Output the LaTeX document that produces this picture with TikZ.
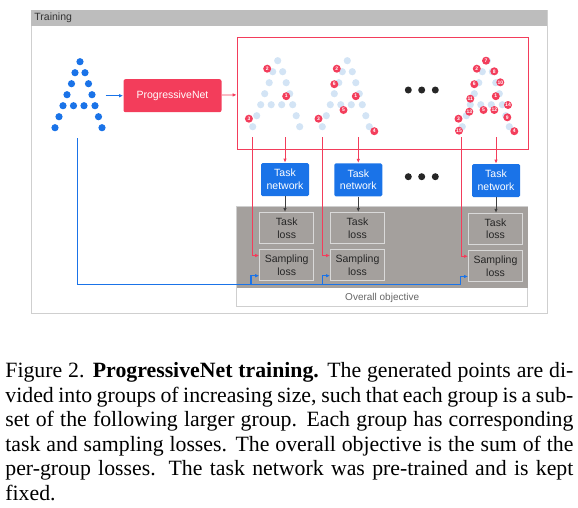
\documentclass[tikz,border=0pt]{standalone}
\usepackage{fontspec}
\setmainfont{Liberation Serif}
\setsansfont{Liberation Sans}
\usetikzlibrary{arrows.meta}

\definecolor{pnred}{HTML}{F33D5B}
\definecolor{gblue}{HTML}{1A73E8}
\definecolor{paleblue}{HTML}{D3E4F5}
\definecolor{lossgray}{HTML}{A4A09D}
\definecolor{framegray}{HTML}{CFCFCF}
\definecolor{bargray}{HTML}{BDBDBD}
\definecolor{inkgray}{HTML}{333333}

% dot layout of the letter A, offsets from its top point
\newcommand\Ashape{0/0,-5/11,5/11,-8.5/22,8.5/22,-13/33,12/33,-17/44,-6.5/44,4/44,15/44,-21/55,18.5/55,-25/66,22/66}
% where the numbered samples sit, offsets from the top point
\newcommand\Nums{8.5/35.5/1,-10.5/8/2,-28.8/58/3,27/70.5/4,-3.8/49.3/5,-13/23.5/6,-1.3/0/7,7/10.6/8,20/56.6/9,13/21.6/10,-17/38/11,7/49.3/12,-18/51/13,20.7/44.3/14,-28.3/70/15}

\tikzset{
  tip/.style={-{Latex[length=4pt,width=3.5pt]}},
  pnbox/.style={fill=pnred,rounded corners=2pt,text=white,minimum width=98pt,minimum height=33pt,inner sep=0},
  netbox/.style={fill=gblue,rounded corners=1.5pt,text=white,align=center,minimum width=48pt,minimum height=33pt,inner sep=0},
  lossbox/.style={draw=framegray!80,line width=1pt,fill=lossgray,text=black!85,align=center,minimum width=54pt,minimum height=31pt,inner sep=0},
  num/.style={circle,fill=pnred,text=white,inner sep=0,minimum size=8pt,font=\sffamily\bfseries\fontsize{5}{5}\selectfont}
}

\begin{document}
\begin{tikzpicture}[x=1pt,y=-1pt,line width=.8pt,font=\sffamily\fontsize{10.5}{12.6}\selectfont]
\useasboundingbox (0,0) rectangle (578,507);
\draw[framegray,line width=1pt] (31,10) rectangle (547,313.5);
\fill[bargray] (31,10) rectangle (547,25.5);
\node[anchor=west,text=inkgray,inner sep=0] (title) at (34,18) {Training};

% input points
\foreach \dx/\dy in \Ashape \fill[gblue] (80+\dx,61.7+\dy) circle (3.6pt);
\coordinate (inA) at (105.7,95.7);
\coordinate (srcA) at (77.7,138);

\node[pnbox] (pnet) at (172.5,95.7) {ProgressiveNet};
\node[draw=pnred,minimum width=291pt,minimum height=112pt,inner sep=0] (groups) at (382.5,93) {};
\draw[gblue,tip] (inA) -- (pnet);
\draw[pnred,tip] (pnet) -- (groups);

% generated points, split into groups
\foreach \gx/\nmax [count=\g] in {277.7/3,347.3/6,487.3/15}{
  \foreach \dx/\dy in \Ashape \fill[paleblue] (\gx+\dx,60.7+\dy) circle (3.6pt);
  \foreach \dx/\dy/\k in \Nums {\ifnum\k>\nmax\else \node[num] (g\g-\k) at (\gx+\dx,60.7+\dy) {\k};\fi}
}

\foreach \y in {90,176.7,247.7} \foreach \x in {408.3,421.7,435.3} \fill[black!85] (\x,\y) circle (3.5pt);

% losses
\draw[framegray,line width=1pt,fill=white] (236.7,206.7) rectangle (527.7,306.7);
\fill[lossgray] (236.7,206.7) rectangle (527.7,288.3);
\node[text=black!60,font=\sffamily\fontsize{10}{12}\selectfont] (obj) at (382.2,297.6) {Overall objective};

\node[netbox] (tn1) at (285,179.5) {Task\\network};
\node[netbox] (tn2) at (358.3,179.8) {Task\\network};
\node[netbox] (tn3) at (496,180.5) {Task\\network};
\node[lossbox] (tl1) at (286.7,228) {Task\\loss};
\node[lossbox] (tl2) at (357.5,228) {Task\\loss};
\node[lossbox] (tl3) at (495.5,228.8) {Task\\loss};
\node[lossbox] (sl1) at (286.7,265.2) {Sampling\\loss};
\node[lossbox] (sl2) at (357.5,265.2) {Sampling\\loss};
\node[lossbox] (sl3) at (495.5,266) {Sampling\\loss};

\foreach \i/\sx in {1/252.3,2/322.7,3/461}{
  \coordinate (gs\i) at (\sx,137);
  \draw[pnred,tip] (tn\i |- gs\i) -- (tn\i);
  \draw[pnred,tip] (gs\i) |- ([yshift=9.7pt]sl\i.west);
  \draw[black!75,tip] (tn\i) -- (tn\i |- tl\i.north);
}

\coordinate (j1) at (251,284.5);
\coordinate (j2) at (322.3,284.5);
\coordinate (j3) at (460.7,284.5);
\draw[gblue,line width=1.1pt] (srcA) |- (j3);
\foreach \i in {1,2,3} \draw[gblue,line width=1.1pt,tip] (j\i) |- ([yshift=-10.5pt]sl\i.west);

\node[anchor=north west,inner sep=0,text width=568pt,align=justify,font=\rmfamily\fontsize{21.8}{24.5}\selectfont] (caption) at (5,362) {\tolerance=10000\hbadness=10000
Figure 2. \textbf{ProgressiveNet training.} The generated points are di-\linebreak
vided into groups of increasing size, such that each group is a sub-\linebreak
set of the following larger group. Each group has corresponding\linebreak
task and sampling losses. The overall objective is the sum of the\linebreak
per-group losses. The task network was pre-trained and is kept\linebreak
fixed.};
\end{tikzpicture}
\end{document}
